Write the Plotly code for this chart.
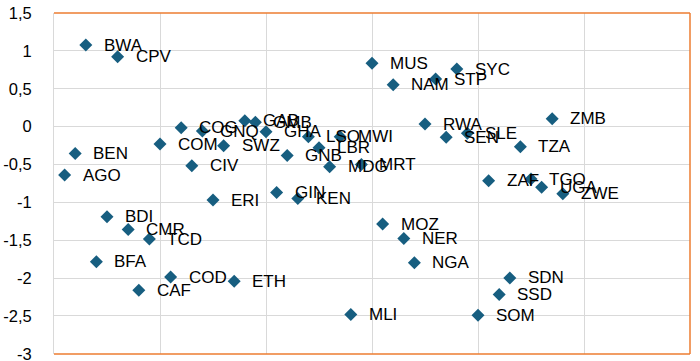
import plotly.graph_objects as go

codes = ["AGO","BEN","BWA","BFA","BDI","CPV","CMR","CAF","TCD","COM",
         "COD","COG","CIV","GNQ","ERI","SWZ","ETH","GAB","GMB","GHA",
         "GIN","GNB","KEN","LSO","LBR","MDG","MWI","MLI","MRT","MUS",
         "MOZ","NAM","NER","NGA","RWA","STP","SEN","SYC","SLE","SOM",
         "ZAF","SSD","SDN","TZA","TGO","UGA","ZMB","ZWE"]
x_vals = [0.1,0.2,0.3,0.4,0.5,0.6,0.7,0.8,0.9,1.0,
          1.1,1.2,1.3,1.4,1.5,1.6,1.7,1.8,1.9,2.0,
          2.1,2.2,2.3,2.4,2.5,2.6,2.7,2.8,2.9,3.0,
          3.1,3.2,3.3,3.4,3.5,3.6,3.7,3.8,3.9,4.0,
          4.1,4.2,4.3,4.4,4.5,4.6,4.7,4.8]
y_vals = [-0.64,-0.354,1.077,-1.785,-1.191,0.923,-1.357,-2.159,-1.485,-0.23,
          -1.987,-0.015,-0.517,-0.059,-0.970,-0.253,-2.040,0.077,0.056,-0.068,
          -0.869,-0.38,-0.948,-0.134,-0.279,-0.53,-0.134,-2.48,-0.499,0.835,
          -1.287,0.553,-1.476,-1.798,0.034,0.628,-0.142,0.760,-0.089,-2.489,
          -0.715,-2.216,-1.997,-0.266,-0.693,-0.80,0.104,-0.885]
y_tickvals = [1.5,1,0.5,0,-0.5,-1,-1.5,-2,-2.5,-3]
y_ticktext = ["1,5","1","0,5","0","-0,5","-1","-1,5","-2","-2,5","-3"]

MARKER = "#175E80"
ORANGE = "#ED7D31"
GRID = "#D9D9D9"
FONT = "Liberation Sans, Arial, sans-serif"

fig = go.Figure()
fig.add_trace(go.Scatter(
    x=x_vals, y=y_vals, mode="markers",
    marker=dict(symbol="diamond", size=10, color=MARKER),
    hoverinfo="text", text=codes, showlegend=False,
))

annotations = [
    dict(x=xv, y=yv, text=c, xref="x", yref="y", showarrow=False,
         xanchor="left", yanchor="middle", xshift=16,
         font=dict(family=FONT, size=17, color="black"))
    for c, xv, yv in zip(codes, x_vals, y_vals)
]

fig.update_layout(
    width=700, height=361,
    margin=dict(l=54, r=10, t=13, b=7, autoexpand=False),
    paper_bgcolor="white", plot_bgcolor="white",
    font=dict(family=FONT, size=16, color="black"),
    annotations=annotations,
    xaxis=dict(range=[0, 6], dtick=1, tick0=0, showticklabels=False,
               showgrid=True, gridcolor=GRID, gridwidth=1, automargin=False,
               zeroline=False, showline=False, ticks=""),
    yaxis=dict(range=[-3.002, 1.5], tickvals=y_tickvals, ticktext=y_ticktext,
               showgrid=True, gridcolor=GRID, gridwidth=1, automargin=False,
               zeroline=False, showline=True, linecolor=GRID, linewidth=1,
               ticks="", ticklabelstandoff=18, ticklabeloverflow="allow",
               tickfont=dict(family=FONT, size=16.5, color="black")),
    shapes=[
        dict(type="line", xref="paper", yref="paper", x0=0, x1=1, y0=1, y1=1,
             line=dict(color=ORANGE, width=1.5)),
        dict(type="line", xref="paper", yref="paper", x0=1, x1=1, y0=0, y1=1,
             line=dict(color=ORANGE, width=1.5)),
        dict(type="line", xref="paper", yref="paper", x0=0, x1=1, y0=0, y1=0,
             line=dict(color=ORANGE, width=1.5)),
    ],
)

fig.write_html("out.html", config={"displayModeBar": False},
               post_script="document.body.style.margin='0';document.body.style.overflow='hidden';")
